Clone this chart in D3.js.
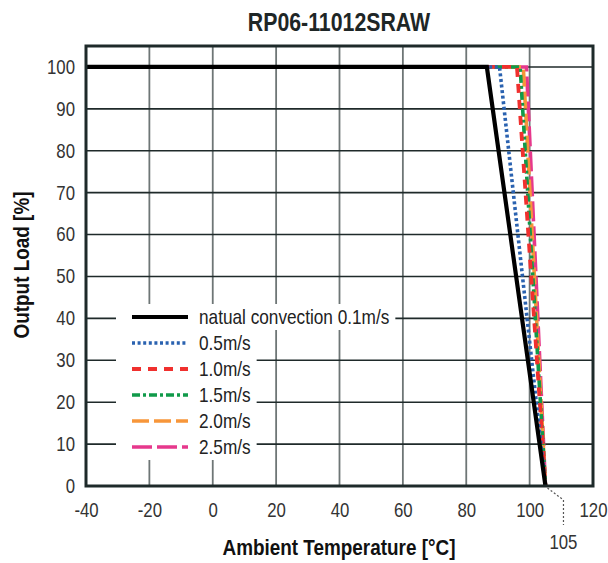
<!DOCTYPE html>
<html>
<head>
<meta charset="utf-8">
<script src="https://cdn.jsdelivr.net/npm/d3@7/dist/d3.min.js"></script>
<style>
  html, body { margin: 0; padding: 0; background: #fff; }
  svg { display: block; }
  text { font-family: "Liberation Sans", Arial, sans-serif; }
</style>
</head>
<body>
<svg id="chart" width="608" height="563"></svg>
<script>
// ---- data ----
const title = "RP06-11012SRAW";
const xTicks = [-40, -20, 0, 20, 40, 60, 80, 100, 120];
const yTicks = [0, 10, 20, 30, 40, 50, 60, 70, 80, 90, 100];
const seriesNames = ["natual convection 0.1m/s", "0.5m/s", "1.0m/s", "1.5m/s", "2.0m/s", "2.5m/s"];
const seriesColors = ["#000000", "#2a62b0", "#f0302e", "#109a4a", "#f7963a", "#e6388c"];
// derating curves: ambient temperature [°C] vs output load [%]
const tempNat = [-40, 86.5, 105];  const loadNat = [100, 100, 0];
const temp05  = [-40, 90.5, 105];  const load05  = [100, 100, 0];
const temp10  = [-40, 96, 105];    const load10  = [100, 100, 0];
const temp15  = [-40, 97, 105];    const load15  = [100, 100, 0];
const temp20  = [-40, 98, 105];    const load20  = [100, 100, 0];
const temp25  = [-40, 99, 105];    const load25  = [100, 100, 0];
const maxTempMark = 105;

const temps = [tempNat, temp05, temp10, temp15, temp20, temp25];
const loads = [loadNat, load05, load10, load15, load20, load25];

// ---- styles ----
const dashes = [null, "3,2.6", "9,7", "8,3,3,3", "17,5", "20,5"];
const widths = [4.2, 3.6, 3.8, 3.6, 3.6, 3.6];
const K = 0.84; // horizontal condensing of the font

function condense(sel, k) {
  sel.attr("transform", function () {
    const x0 = +(this.getAttribute("x") || 0);
    return `translate(${x0},0) scale(${k},1) translate(${-x0},0)`;
  });
}

const svg = d3.select("#chart");
const x = d3.scaleLinear().domain([-40, 120]).range([86, 593]);
const y = d3.scaleLinear().domain([0, 105]).range([486, 46]);

// title
svg.append("text").attr("x", 339).attr("y", 31).attr("text-anchor", "middle")
  .attr("font-size", 26).attr("font-weight", "bold").attr("fill", "#1e2626").text(title)
  .call(condense, 0.82);

// grid
const g = svg.append("g");
g.selectAll("line.vg").data(xTicks.filter(d => d > -40 && d < 120)).join("line")
  .attr("x1", d => x(d)).attr("x2", d => x(d)).attr("y1", y(105)).attr("y2", y(0))
  .attr("stroke", "#6e7676").attr("stroke-width", 1.8);
g.selectAll("line.hg").data(yTicks.filter(d => d > 0)).join("line")
  .attr("x1", x(-40)).attr("x2", x(120)).attr("y1", d => y(d)).attr("y2", d => y(d))
  .attr("stroke", "#1f2a2a").attr("stroke-width", 1.6);

// axes tick labels
const fmt = d => String(d);
const xAxis = d3.axisBottom(x).tickValues(xTicks).tickSize(0).tickPadding(17).tickFormat(fmt);
const xa = svg.append("g").attr("transform", `translate(0,${y(0)})`).call(xAxis);
xa.select(".domain").remove();
xa.selectAll("text").attr("font-size", 20).attr("fill", "#333").attr("font-family", null).call(condense, K);

const yAxis = d3.axisLeft(y).tickValues(yTicks).tickSize(0).tickPadding(11).tickFormat(fmt);
const ya = svg.append("g").attr("transform", `translate(${x(-40)},0)`).call(yAxis);
ya.select(".domain").remove();
ya.selectAll("text").attr("font-size", 20).attr("fill", "#333").attr("font-family", null).call(condense, K);

// curves
const line = d3.line().x(d => x(d[0])).y(d => y(d[1]));
const order = [5, 4, 3, 2, 1, 0];
order.forEach(i => {
  const pts = temps[i].map((t, k) => [t, loads[i][k]]);
  svg.append("path").attr("d", line(pts)).attr("fill", "none")
    .attr("stroke", seriesColors[i]).attr("stroke-width", widths[i])
    .attr("stroke-dasharray", dashes[i]);
});

// frame
svg.append("rect").attr("x", x(-40)).attr("y", y(105))
  .attr("width", x(120) - x(-40)).attr("height", y(0) - y(105))
  .attr("fill", "none").attr("stroke", "#1e2a2a").attr("stroke-width", 3);

// legend
const legRowY = 317, legStep = 26;
const leg = svg.append("g");
seriesNames.forEach((name, i) => {
  const cy = legRowY + i * legStep;
  const t = leg.append("text").attr("x", 199).attr("y", cy + 7)
    .attr("font-size", 21).attr("fill", "#222").text(name).call(condense, 0.82);
  const w = t.node().getComputedTextLength() * 0.82;
  leg.insert("rect", "text").attr("x", 116).attr("y", cy - 13)
    .attr("width", 199 + w + 6 - 116).attr("height", 26).attr("fill", "#fff");
  leg.append("line").attr("x1", 132).attr("x2", 188).attr("y1", cy).attr("y2", cy)
    .attr("stroke", seriesColors[i]).attr("stroke-width", widths[i])
    .attr("stroke-dasharray", dashes[i]);
});

// 105 annotation
const ax = x(maxTempMark);
svg.append("path")
  .attr("d", `M${ax + 2},${y(0) + 2} L${ax + 18},${y(0) + 14} L${ax + 18},${y(0) + 39}`)
  .attr("fill", "none").attr("stroke", "#555").attr("stroke-width", 1.2)
  .attr("stroke-dasharray", "2,2");
svg.append("text").attr("x", ax + 18).attr("y", 549).attr("text-anchor", "middle")
  .attr("font-size", 20).attr("fill", "#333").text(String(maxTempMark)).call(condense, K);

// axis titles
svg.append("text").attr("x", 339).attr("y", 555).attr("text-anchor", "middle")
  .attr("font-size", 22).attr("font-weight", "bold").attr("fill", "#111")
  .text("Ambient Temperature [°C]").call(condense, 0.86);
svg.append("text").attr("transform", "translate(29,265) rotate(-90) scale(0.86,1)")
  .attr("text-anchor", "middle").attr("font-size", 22).attr("font-weight", "bold")
  .attr("fill", "#111").text("Output Load [%]");
</script>
</body>
</html>
